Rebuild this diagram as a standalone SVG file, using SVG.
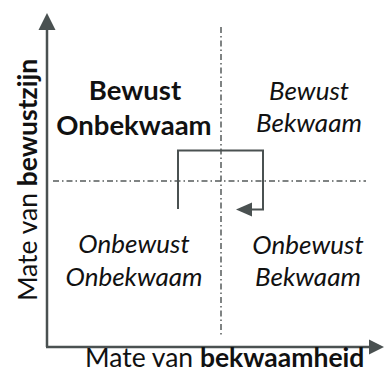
<svg xmlns="http://www.w3.org/2000/svg" width="384" height="373" viewBox="0 0 384 373">
<style>
.t{font-family:Lato,"Noto Sans",sans-serif;fill:#111;}
.q{font-size:26px;text-anchor:middle;}
.it{font-style:italic;}
.b{font-weight:bold;}
.qb{font-size:27.5px;}
.ax{font-size:26.5px;}
.dd{stroke:#555b5b;stroke-width:1.5;stroke-dasharray:6,3,1.5,3;fill:none;}
.ln{stroke:#4a5151;fill:none;}
</style>
<rect width="384" height="373" fill="#fff"/>
<g id="connectors">
<line class="dd" x1="53" y1="181" x2="366" y2="181"/>
<line class="dd" x1="221" y1="27" x2="221" y2="336"/>
<path class="ln" stroke-width="2" d="M178,209 V150.5 H263 V209.5 H250"/>
<polygon fill="#4a5151" points="236,209.5 252,202.5 252,216.5"/>
<path class="ln" stroke-width="2.5" d="M47,347 V29 M46,347 H371"/>
<polygon fill="#4a5151" points="47,13 38.5,30 55.5,30"/>
<polygon fill="#4a5151" points="384,347 369,339.5 369,354.5"/>
</g>
<g id="tl"><text class="t q b qb" x="135" y="100">Bewust</text><text class="t q b qb" x="134" y="135">Onbekwaam</text></g>
<g id="tr"><text class="t q it" x="309" y="100">Bewust</text><text class="t q it" x="309" y="132">Bekwaam</text></g>
<g id="bl"><text class="t q it" x="134" y="253">Onbewust</text><text class="t q it" x="134" y="286">Onbekwaam</text></g>
<g id="br"><text class="t q it" x="308" y="254">Onbewust</text><text class="t q it" x="308" y="286">Bekwaam</text></g>
<g id="xlabel"><text class="t ax" x="85" y="367">Mate van <tspan class="b">bekwaamheid</tspan></text></g>
<g id="ylabel"><text class="t ax" transform="translate(37,180) rotate(-90)" text-anchor="middle">Mate van <tspan class="b">bewustzijn</tspan></text></g>
</svg>
